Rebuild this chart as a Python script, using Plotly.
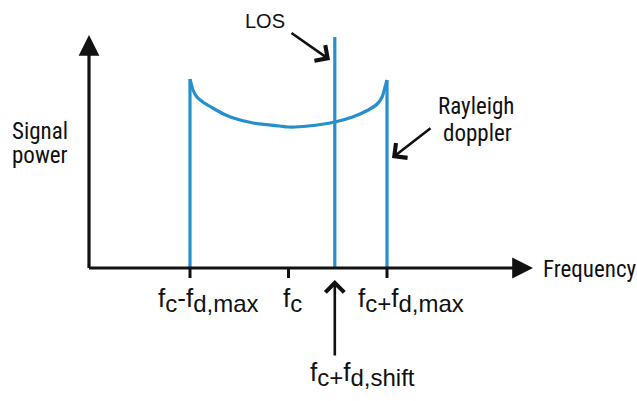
import plotly.graph_objects as go

# ---- data (normalised: frequency in units of f_d,max around f_c; power arbitrary) ----
freq_curve = [-1.0, -0.99, -0.97, -0.93, -0.87, -0.77, -0.66, -0.56, -0.36, -0.09, 0.0,
              0.2, 0.47, 0.65, 0.81, 0.9, 0.95, 0.98, 1.0]
power_curve = [1.89, 1.85, 1.78, 1.71, 1.66, 1.60, 1.54, 1.50, 1.45, 1.42, 1.41,
               1.42, 1.46, 1.51, 1.58, 1.64, 1.71, 1.81, 1.88]
los_freq = 0.47
los_power = 2.31
tick_vals = [-1.0, 0.0, 1.0]
tick_labels = [
    "f<sub><span style='font-size:24px'>c</span></sub>-f<sub><span style='font-size:24px'>d,max</span></sub>",
    "f<sub><span style='font-size:24px'>c</span></sub>",
    "f<sub><span style='font-size:24px'>c+</span></sub>f<sub><span style='font-size:24px'>d,max</span></sub>",
]
shift_label = "f<sub><span style='font-size:24px'>c+</span></sub>f<sub><span style='font-size:24px'>d,shift</span></sub>"

W, H = 637, 401
X0, XS = 288.5, 98.5   # pixel of f_c, pixels per unit
Y0, YS = 268.0, 100.0  # pixel of zero power, pixels per unit
xr = [(0 - X0) / XS, (W - X0) / XS]
yr = [(Y0 - H) / YS, (Y0 - 0) / YS]

BLUE = "rgb(38,143,206)"
BLACK = "#111111"
NARROW = "Liberation Sans Narrow, Arial Narrow, Roboto Condensed, Roboto, sans-serif"
REG = "Liberation Sans, Arial, sans-serif"

fig = go.Figure()

# Rayleigh doppler spectrum: vertical edges
fig.add_trace(go.Scatter(x=[freq_curve[0], freq_curve[0], None, freq_curve[-1], freq_curve[-1]],
                         y=[0, power_curve[0], None, power_curve[-1], 0], mode="lines",
                         line=dict(color=BLUE, width=3.2), hoverinfo="skip"))
# bowl
fig.add_trace(go.Scatter(x=freq_curve, y=power_curve, mode="lines",
                         line=dict(color=BLUE, width=3.2, shape="spline", smoothing=0.8),
                         hoverinfo="skip"))
# LOS line
fig.add_trace(go.Scatter(x=[los_freq, los_freq], y=[0, los_power], mode="lines",
                         line=dict(color=BLUE, width=3.2), hoverinfo="skip"))
# ticks
tx, ty = [], []
for t in tick_vals:
    tx += [t, t, None]
    ty += [0, -0.10, None]
fig.add_trace(go.Scatter(x=tx, y=ty, mode="lines",
                         line=dict(color=BLACK, width=3), hoverinfo="skip"))

def px2x(p):
    return (p - X0) / XS

def py2y(p):
    return (Y0 - p) / YS

ann = []
# axes with arrows
yaxis_x = px2x(89)
ann.append(dict(x=yaxis_x, y=py2y(35), ax=yaxis_x, ay=-0.015, xref="x", yref="y",
                axref="x", ayref="y", showarrow=True, arrowhead=2, arrowsize=1.3,
                arrowwidth=3.2, arrowcolor=BLACK, text="", standoff=0))
ann.append(dict(x=px2x(533), y=0, ax=yaxis_x - 0.015, ay=0, xref="x", yref="y",
                axref="x", ayref="y", showarrow=True, arrowhead=2, arrowsize=1.3,
                arrowwidth=3.2, arrowcolor=BLACK, text="", standoff=0))
# LOS pointer
ann.append(dict(x=px2x(330), y=py2y(60), ax=px2x(290), ay=py2y(32), xref="x", yref="y",
                axref="x", ayref="y", showarrow=True, arrowhead=4, arrowsize=1.4,
                arrowwidth=2.6, arrowcolor=BLACK, text=""))
# Rayleigh pointer
ann.append(dict(x=px2x(392), y=py2y(158), ax=px2x(432), ay=py2y(127), xref="x", yref="y",
                axref="x", ayref="y", showarrow=True, arrowhead=4, arrowsize=1.4,
                arrowwidth=2.6, arrowcolor=BLACK, text=""))
# f_d,shift pointer
ann.append(dict(x=los_freq, y=py2y(280), ax=los_freq, ay=py2y(357), xref="x", yref="y",
                axref="x", ayref="y", showarrow=True, arrowhead=4, arrowsize=1.4,
                arrowwidth=2.6, arrowcolor=BLACK, text=""))

# tick labels
shifts = [-34, -7.5, -31]
for t, lab, s in zip(tick_vals, tick_labels, shifts):
    ann.append(dict(x=t, y=py2y(281), xref="x", yref="y", text=lab, showarrow=False,
                    xanchor="left", yanchor="top", xshift=s,
                    font=dict(family=REG, size=26, color=BLACK)))
ann.append(dict(x=los_freq, y=py2y(355), xref="x", yref="y", text=shift_label,
                showarrow=False, xanchor="left", yanchor="top", xshift=-27,
                font=dict(family=REG, size=26, color=BLACK)))

def txt(t, px, py, size=23, fam=NARROW):
    return dict(x=px / W, y=1 - py / H, xref="paper", yref="paper", text=t,
                showarrow=False, xanchor="left", yanchor="middle",
                font=dict(family=fam, size=size, color=BLACK))

ann.append(txt("Signal", 10, 131.5))
ann.append(txt("power", 10, 155))
ann.append(txt("Rayleigh", 436, 107))
ann.append(txt("doppler", 441, 133.5))
ann.append(txt("Frequency", 541, 269))
ann.append(txt("LOS", 243, 21, size=20, fam=REG))

fig.update_layout(
    width=W, height=H, margin=dict(l=0, r=0, t=0, b=0),
    paper_bgcolor="white", plot_bgcolor="white", showlegend=False,
    xaxis=dict(range=xr, visible=False, fixedrange=True),
    yaxis=dict(range=yr, visible=False, fixedrange=True),
    annotations=ann,
)
fig.write_html("out.html", config={"displayModeBar": False, "staticPlot": True},
               post_script="document.body.style.margin='0';document.body.style.overflow='hidden';")
